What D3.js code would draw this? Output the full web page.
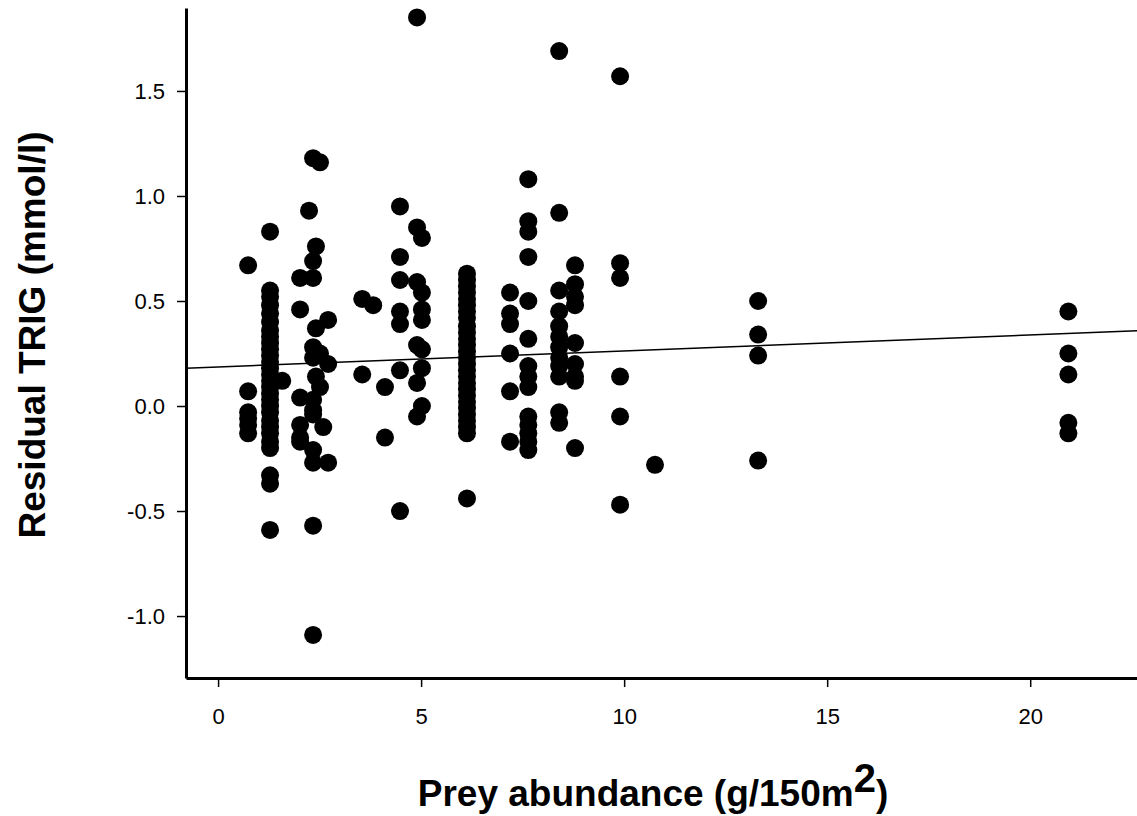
<!DOCTYPE html>
<html>
<head>
<meta charset="utf-8">
<script src="https://cdn.jsdelivr.net/npm/d3@7"></script>
<style>
  body { margin: 0; background: #fff; }
  svg { display: block; font-family: "Liberation Sans", Arial, sans-serif; }
</style>
</head>
<body>
<div id="chart"></div>
<script>
// prey abundance per site (g/150m2) and the residuals measured there
const siteAbundance = [0.74, 1.28, 1.58, 2.02, 2.24, 2.34, 2.41, 2.51, 2.59, 2.71,
  3.55, 3.82, 4.11, 4.48, 4.90, 5.02, 6.13, 7.19, 7.64, 8.40, 8.79, 9.90, 10.76, 13.3, 20.94];

const siteResiduals = [
  [0.67, 0.07, -0.03, -0.06, -0.09, -0.13],
  [0.83, 0.55, 0.52, 0.48, 0.44, 0.40, 0.36, 0.33, 0.30, 0.27, 0.24, 0.21, 0.18, 0.15, 0.12,
   0.09, 0.06, 0.03, 0.00, -0.03, -0.07, -0.10, -0.13, -0.17, -0.20, -0.33, -0.37, -0.59],
  [0.12],
  [0.61, 0.46, 0.04, -0.09, -0.15, -0.17],
  [0.93],
  [1.18, 0.69, 0.61, 0.28, 0.23, 0.03, -0.02, -0.04, -0.21, -0.27, -0.57, -1.09],
  [0.76, 0.37, 0.14],
  [1.16, 0.25, 0.09],
  [-0.10],
  [0.41, 0.20, -0.27],
  [0.51, 0.15],
  [0.48],
  [0.09, -0.15],
  [0.95, 0.71, 0.60, 0.45, 0.39, 0.17, -0.50],
  [1.85, 0.85, 0.59, 0.29, 0.11, -0.05],
  [0.80, 0.54, 0.46, 0.41, 0.27, 0.18, 0.00],
  [0.63, 0.60, 0.57, 0.54, 0.51, 0.48, 0.45, 0.42, 0.38, 0.35, 0.32, 0.29, 0.26, 0.23, 0.20,
   0.17, 0.14, 0.11, 0.08, 0.05, 0.02, -0.01, -0.04, -0.07, -0.10, -0.13, -0.44],
  [0.54, 0.44, 0.39, 0.25, 0.07, -0.17],
  [1.08, 0.88, 0.83, 0.71, 0.50, 0.32, 0.19, 0.14, 0.09, -0.05, -0.09, -0.13, -0.17, -0.21],
  [1.69, 0.92, 0.55, 0.45, 0.38, 0.33, 0.28, 0.23, 0.19, 0.14, -0.03, -0.08],
  [0.67, 0.58, 0.52, 0.48, 0.30, 0.20, 0.14, 0.12, -0.20],
  [1.57, 0.68, 0.61, 0.14, -0.05, -0.47],
  [-0.28],
  [0.50, 0.34, 0.24, -0.26],
  [0.45, 0.25, 0.15, -0.08, -0.13]
];

// fitted regression: residual = a + b * abundance
const fitIntercept = 0.186;
const fitSlope = 0.0076;

const xTicks = [0, 5, 10, 15, 20];
const yTicks = [-1.0, -0.5, 0.0, 0.5, 1.0, 1.5];

const W = 1137, H = 816;
const plotLeft = 186, plotRight = 1137, plotTop = 8, plotBottom = 678;

const svg = d3.select("#chart").append("svg")
  .attr("width", W)
  .attr("height", H);

const x = d3.scaleLinear().domain([-0.79, 22.63]).range([plotLeft, plotRight]);
const y = d3.scaleLinear().domain([-1.295, 1.895]).range([plotBottom, plotTop]);

// points, flattened from the site groups
const points = [];
siteAbundance.forEach((a, i) => {
  siteResiduals[i].forEach(r => points.push({ x: a, y: r }));
});

svg.append("g")
  .selectAll("circle")
  .data(points)
  .enter()
  .append("circle")
  .attr("cx", d => x(d.x))
  .attr("cy", d => y(d.y))
  .attr("r", 9)
  .attr("fill", "#000");

// regression line across the whole x range
const xd = x.domain();
svg.append("line")
  .attr("x1", x(xd[0]))
  .attr("y1", y(fitIntercept + fitSlope * xd[0]))
  .attr("x2", x(xd[1]))
  .attr("y2", y(fitIntercept + fitSlope * xd[1]))
  .attr("stroke", "#000")
  .attr("stroke-width", 1.5);

// axes
const yAxis = svg.append("g")
  .attr("transform", `translate(${plotLeft},0)`)
  .call(d3.axisLeft(y).tickValues(yTicks).tickSize(9).tickSizeOuter(0)
    .tickFormat(d => d.toFixed(1)));

const xAxis = svg.append("g")
  .attr("transform", `translate(0,${plotBottom})`)
  .call(d3.axisBottom(x).tickValues(xTicks).tickSize(9).tickSizeOuter(0)
    .tickFormat(d => d));

[yAxis, xAxis].forEach(ax => {
  ax.select(".domain").attr("stroke", "#000").attr("stroke-width", 3);
  ax.selectAll(".tick line").attr("stroke", "#000").attr("stroke-width", 1.5);
  ax.selectAll(".tick text")
    .attr("fill", "#000")
    .style("font-size", "22px")
    .style("font-family", "'Liberation Sans', Arial, sans-serif");
});
yAxis.selectAll(".tick text").attr("x", -21);
xAxis.selectAll(".tick text").attr("y", 30);

// axis titles
svg.append("text")
  .attr("transform", `translate(45,335) rotate(-90)`)
  .attr("text-anchor", "middle")
  .style("font-size", "37px")
  .style("font-weight", "bold")
  .text("Residual TRIG (mmol/l)");

const xt = svg.append("text")
  .attr("x", 653)
  .attr("y", 806)
  .attr("text-anchor", "middle")
  .style("font-size", "37px")
  .style("font-weight", "bold");
xt.append("tspan").text("Prey abundance (g/150m");
xt.append("tspan").attr("dy", -14).style("font-size", "40px").text("2");
xt.append("tspan").attr("dy", 14).text(")");
</script>
</body>
</html>
